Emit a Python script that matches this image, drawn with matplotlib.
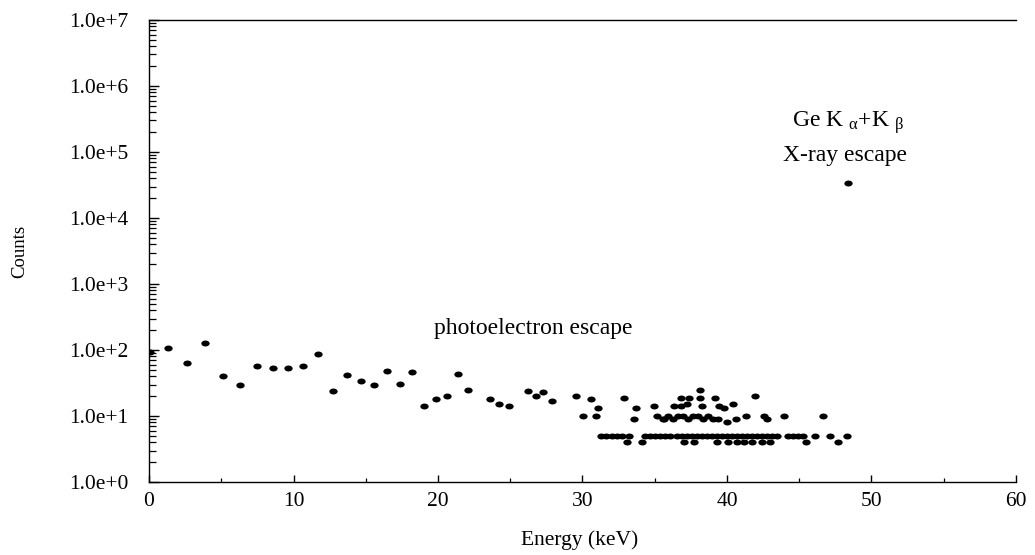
import matplotlib
matplotlib.use("Agg")
import matplotlib.pyplot as plt
from matplotlib.path import Path
from matplotlib.transforms import Affine2D
from matplotlib.ticker import LogLocator, FixedLocator, NullFormatter

# ---------------- data ----------------
energy_low = [0.07, 1.32, 2.6, 3.86, 5.1, 6.3, 7.45, 8.56, 9.64, 10.66, 11.7,
              12.7, 13.7, 14.7, 15.6, 16.5, 17.4, 18.2, 19.0, 19.86, 20.6,
              21.4, 22.1, 23.6, 24.2, 24.9, 26.2, 26.8, 27.3, 27.9, 29.55,
              30.05, 30.57, 30.9, 31.05]
counts_low = [92, 108, 63, 126, 41, 29, 57, 54, 53, 57, 87,
              24, 42, 34, 29, 48, 31, 47, 14, 18, 20,
              43, 25, 18, 15, 14, 24, 20, 23, 17, 20,
              10, 18, 10, 13]

energy_mid = [32.87, 33.57, 33.69, 34.92, 35.15, 35.65,
              36.35, 36.8, 36.85, 37.2, 37.4, 38.15, 38.15, 38.25, 39.2,
              39.45, 39.8, 40.45, 41.95,
              35.6, 35.9, 36.25, 36.6, 36.95, 37.3, 37.65, 38.0, 38.35, 38.7,
              39.05, 39.4, 39.98, 40.65, 41.35, 42.55, 42.75, 43.97, 46.67]
counts_mid = [19, 9, 13, 14, 10, 9,
              14, 14, 19, 15, 19, 25, 19, 14, 19,
              14, 13, 15, 20,
              9, 10, 9, 10, 10, 9, 10, 10, 9, 10,
              9, 9, 8, 9, 10, 10, 9, 10, 10]

energy_c5 = [31.28, 31.63, 32.02, 32.41, 32.75, 33.24, 34.33, 34.67, 35.02,
             35.36, 35.71, 36.05, 36.54, 36.89, 37.23, 37.58, 37.92, 38.27,
             38.62, 38.96, 39.31, 39.65, 40.0, 40.35, 40.69, 41.04, 41.38,
             41.73, 42.08, 42.42, 42.77, 43.11, 43.46, 44.24, 44.59, 44.93,
             45.28, 46.09, 47.13, 48.28]
counts_c5 = [5] * len(energy_c5)

energy_c4 = [33.06, 34.1, 37.0, 37.7, 39.3, 40.05, 40.7, 41.15, 41.7, 42.4,
             43.0, 45.45, 47.7]
counts_c4 = [4] * len(energy_c4)

energy_peak = [48.4]
counts_peak = [33900]

energies = energy_low + energy_mid + energy_c5 + energy_c4 + energy_peak
counts = counts_low + counts_mid + counts_c5 + counts_c4 + counts_peak

x_ticks = [0, 10, 20, 30, 40, 50, 60]
y_ticks = [1e0, 1e1, 1e2, 1e3, 1e4, 1e5, 1e6, 1e7]
y_tick_labels = ["1.0e+0", "1.0e+1", "1.0e+2", "1.0e+3", "1.0e+4",
                 "1.0e+5", "1.0e+6", "1.0e+7"]

# ---------------- style ----------------
plt.rcParams['font.family'] = ['Liberation Serif', 'DejaVu Serif']
plt.rcParams['mathtext.fontset'] = 'custom'
plt.rcParams['mathtext.rm'] = 'Liberation Serif'
plt.rcParams['mathtext.it'] = 'Liberation Serif:italic'

fig = plt.figure(figsize=(10.35, 5.55), dpi=100)
ax = fig.add_axes([0.144, 0.1315, 0.8376, 0.8325])

ellipse = Path.unit_circle().transformed(Affine2D().scale(1.4, 1.0))
ax.plot(energies, counts, linestyle='none', marker=ellipse,
        markersize=6.0, color='black', markeredgewidth=0)

ax.set_yscale('log')
ax.set_xlim(0, 60)
ax.set_ylim(1, 1e7)

ax.xaxis.set_major_locator(FixedLocator(x_ticks))
ax.xaxis.set_minor_locator(FixedLocator([5, 15, 25, 35, 45, 55]))
ax.set_xticklabels([str(t) for t in x_ticks])
ax.yaxis.set_major_locator(FixedLocator(y_ticks))
ax.set_yticklabels(y_tick_labels)
ax.yaxis.set_minor_locator(LogLocator(base=10, subs=range(2, 10), numticks=20))
ax.yaxis.set_minor_formatter(NullFormatter())

ax.tick_params(axis='y', which='major', direction='in', length=7.2, width=1.0,
               labelsize=15.5, pad=15, left=True, right=False)
ax.tick_params(axis='y', which='minor', direction='in', length=5, width=0.9,
               left=True, right=False)
ax.tick_params(axis='x', which='major', direction='in', length=5, width=1.0,
               labelsize=15.5, pad=7, bottom=True, top=False)
ax.tick_params(axis='x', which='minor', direction='in', length=3, width=0.9,
               bottom=True, top=False)

for side in ['left', 'bottom', 'top']:
    ax.spines[side].set_linewidth(1.0)
ax.spines['right'].set_visible(False)

ax.set_xlabel('Energy (keV)', fontsize=15.5, va='center')
ax.set_ylabel('Counts', fontsize=13.5, va='center')
ax.xaxis.set_label_coords(0.497, -0.1255)
ax.yaxis.set_label_coords(-0.149, 0.5)

ax.text(26.6, 215, 'photoelectron escape', fontsize=17,
        ha='center', va='center')
ax.text(48.4, 10**5.45, r'Ge K $_{\mathrm{α}}$+K $_{\mathrm{β}}$', fontsize=17,
        ha='center', va='center')
ax.text(48.2, 10**4.95, 'X-ray escape', fontsize=17,
        ha='center', va='center')

fig.savefig('out.png', dpi=100)
